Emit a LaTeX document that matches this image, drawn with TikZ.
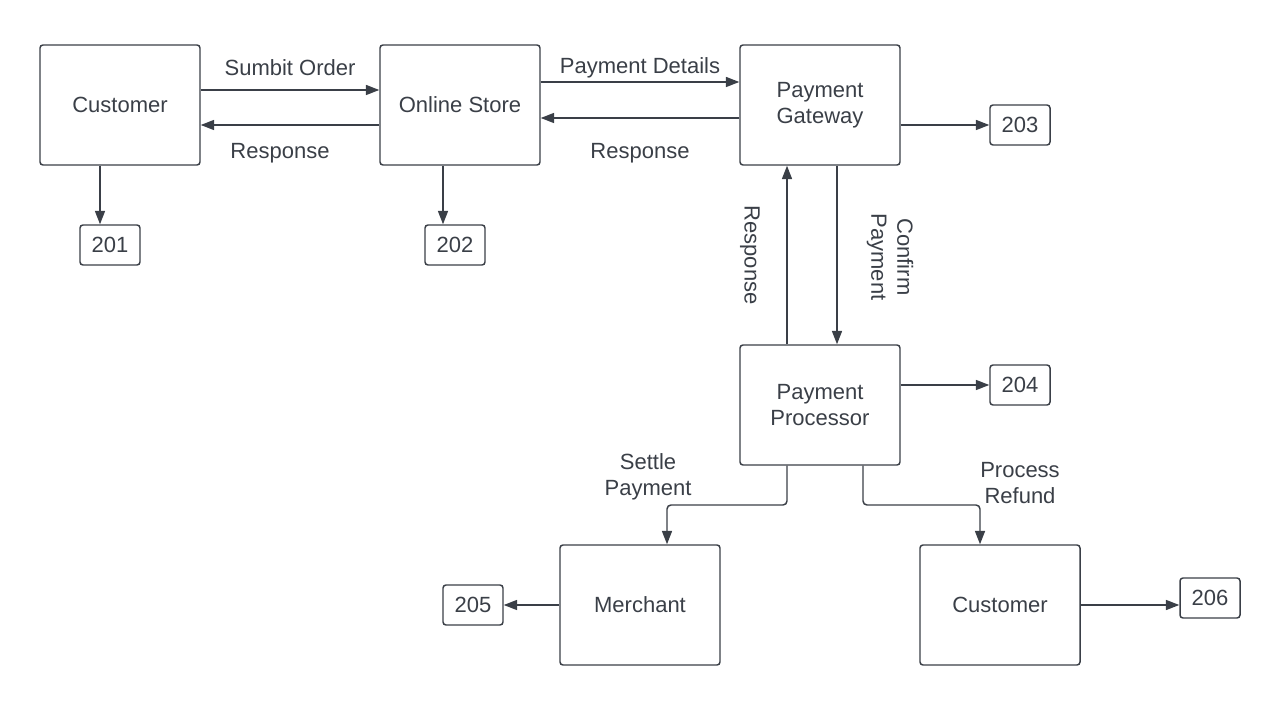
\documentclass[tikz,border=0pt]{standalone}
\usepackage{fontspec}
\setmainfont{Liberation Sans}
\usetikzlibrary{arrows.meta, calc}
\definecolor{ink}{HTML}{3A3F47}
\tikzstyle{box}=[draw=ink, text=ink, rounded corners=2.25pt, minimum width=120pt, minimum height=90pt, inner sep=0pt, align=center]
\tikzstyle{tag}=[draw=ink, text=ink, rounded corners=2.25pt, minimum width=45pt, minimum height=30pt, inner sep=0pt]
\tikzstyle{lbl}=[text=ink, align=center, inner sep=0pt]
\tikzstyle{arr}=[draw=ink, -{Triangle[length=10pt, width=7.5pt]}]

\begin{document}
\begin{tikzpicture}[x=0.75pt, y=-0.75pt, line width=1.1pt, font=\fontsize{16.5}{19.5}\selectfont]
\useasboundingbox (0,0) rectangle (1280,705);
% Boxes
    \node[box] (cust) at (120,105) {Customer};
    \node[box] (store) at (460,105) {Online Store};
    \node[box] (gw) at (820,105) {Payment\\Gateway};
    \node[box] (proc) at (820,405) {Payment\\Processor};
    \node[box] (merch) at (640,605) {Merchant};
    \node[box] (cust2) at (1000,605) {Customer};
% Tags
    \node[tag] (t201) at (110,245) {201};
    \node[tag] (t202) at (455,245) {202};
    \node[tag] (t203) at (1020,125) {203};
    \node[tag] (t204) at (1020,385) {204};
    \node[tag] (t205) at (473,605) {205};
    \node[tag] (t206) at (1210,598) {206};
% Top row
    \draw[arr] ($(cust.east)+(0,-15)$) -- ($(store.west)+(0,-15)$);
    \draw[arr] ($(store.west)+(0,20)$) -- ($(cust.east)+(0,20)$);
    \draw[arr] ($(store.east)+(0,-23)$) -- ($(gw.west)+(0,-23)$);
    \draw[arr] ($(gw.west)+(0,13)$) -- ($(store.east)+(0,13)$);
    \node[lbl] (l1) at (290,68) {Sumbit Order};
    \node[lbl] (l2) at (280,153) {Response};
    \node[lbl] (l3) at (640,68) {Payment Details};
    \node[lbl] (l4) at (640,153) {Response};
% Down to tags
    \draw[arr] ($(cust.south)+(-20,0)$) coordinate (c1) -- (c1 |- t201.north);
    \draw[arr] ($(store.south)+(-17,0)$) coordinate (c2) -- (c2 |- t202.north);
    \draw[arr] (gw.east |- t203.west) -- (t203.west);
    \draw[arr] (proc.east |- t204.west) -- (t204.west);
% Gateway and processor
    \draw[arr] ($(proc.north)+(-33,0)$) coordinate (c3) -- (c3 |- gw.south);
    \draw[arr] ($(gw.south)+(17,0)$) coordinate (c4) -- (c4 |- proc.north);
    \node[lbl, rotate=-90] (l5) at (750,255) {Response};
    \node[lbl, rotate=-90] (l6) at (890,257) {Confirm\\Payment};
% Bottom row
    \draw[arr, rounded corners=3pt] ($(proc.south)+(-33,0)$) coordinate (c5) |- ($(c5)!0.5!($(merch.north)+(27,0)$)$) -| ($(merch.north)+(27,0)$);
    \draw[arr, rounded corners=3pt] ($(proc.south)+(43,0)$) coordinate (c6) |- ($(c6)!0.5!($(cust2.north)+(-20,0)$)$) -| ($(cust2.north)+(-20,0)$);
    \node[lbl] (l7) at (648,477) {Settle\\Payment};
    \node[lbl] (l8) at (1020,483) {Process\\Refund};
    \draw[arr] (merch.west) -- (t205.east);
    \draw[arr] (cust2.east) -- (cust2.east -| t206.west);
\end{tikzpicture}
\end{document}
